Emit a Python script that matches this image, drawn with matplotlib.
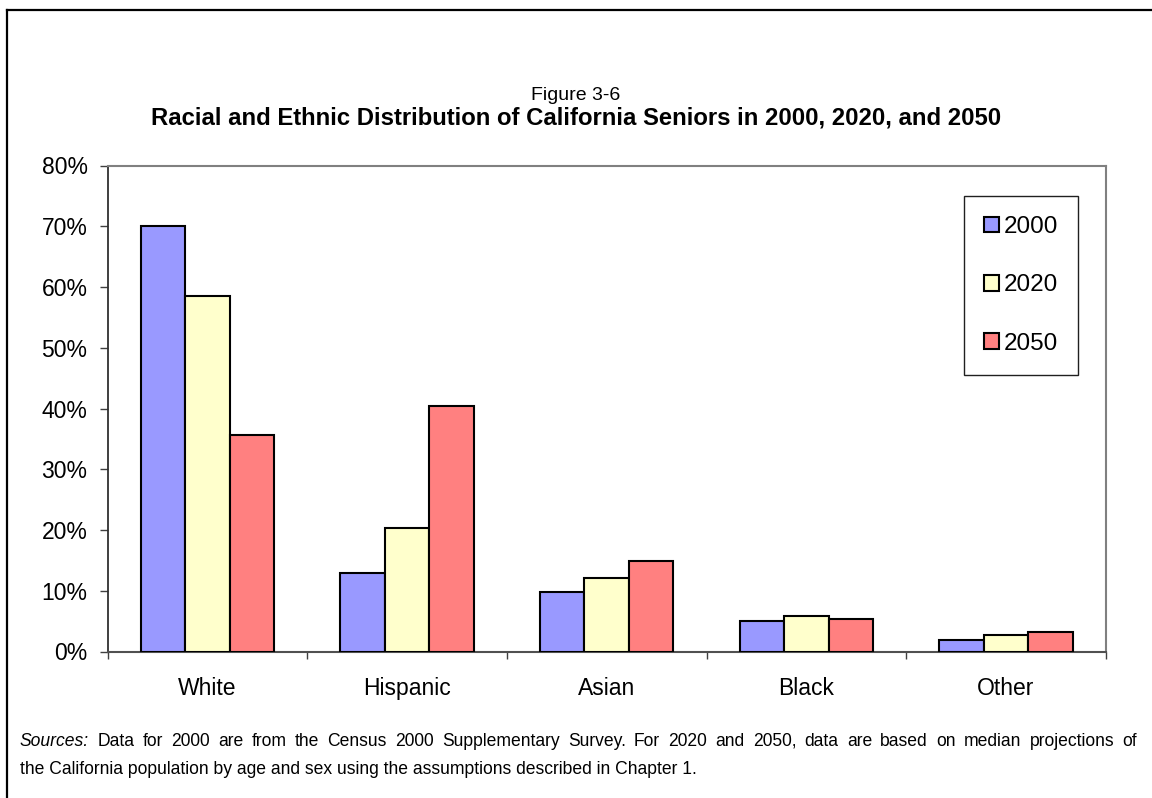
import matplotlib
matplotlib.use("Agg")
import matplotlib.pyplot as plt
import numpy as np
from matplotlib.lines import Line2D
from matplotlib.ticker import FixedLocator, FuncFormatter

plt.rcParams['font.family'] = ['Liberation Sans', 'DejaVu Sans']

# Share of California seniors by race/ethnicity (%)
categories = ["White", "Hispanic", "Asian", "Black", "Other"]
years = ["2000", "2020", "2050"]
share_2000 = [70.0, 13.0, 9.8, 5.0, 1.9]
share_2020 = [58.5, 20.4, 12.1, 5.9, 2.7]
share_2050 = [35.6, 40.4, 14.9, 5.4, 3.2]
series = [share_2000, share_2020, share_2050]
colors = ["#9999FF", "#FFFFCC", "#FF8080"]
y_ticks = [0, 10, 20, 30, 40, 50, 60, 70, 80]

note_line1 = ("Data for 2000 are from the Census 2000 Supplementary Survey. For 2020 and 2050, "
              "data are based on median projections of")
note_line2 = ("the California population by age and sex using the assumptions "
              "described in Chapter 1.")

W, H = 1152, 798
fig = plt.figure(figsize=(W / 100, H / 100), dpi=100)

# page frame: top and left rules
fig.add_artist(Line2D([7 / W, 1.0], [1 - 10 / H, 1 - 10 / H], color="black", lw=1.6,
                      transform=fig.transFigure))
fig.add_artist(Line2D([7 / W, 7 / W], [0.0, 1 - 10 / H], color="black", lw=1.6,
                      transform=fig.transFigure))

ax = fig.add_axes([107.7 / W, 1 - 651.5 / H, (1105.7 - 107.7) / W, (651.5 - 165.5) / H])

x = np.arange(len(categories))
bw = 0.223
for i, (vals, col, yr) in enumerate(zip(series, colors, years)):
    ax.bar(x + (i - 1) * bw, vals, width=bw, color=col, edgecolor="black",
           linewidth=1.5, label=yr, zorder=3)

ax.set_xlim(-0.5, len(categories) - 0.5)
ax.set_ylim(0, 80)

ax.yaxis.set_major_locator(FixedLocator(y_ticks))
ax.yaxis.set_major_formatter(FuncFormatter(lambda v, p: f"{v:.0f}%"))
ax.tick_params(axis="y", direction="out", length=5.5, width=1.0, color="#404040",
               labelsize=16.5, pad=9)

# category names sit on a common baseline below the axis
ax.set_xticks(x)
ax.set_xticklabels(categories)
ax.set_xticks(np.arange(-0.5, len(categories)), minor=True)
ax.tick_params(axis="x", which="major", length=0, labelsize=16.5, pad=31)
for lbl in ax.get_xticklabels():
    lbl.set_verticalalignment("baseline")
ax.tick_params(axis="x", which="minor", direction="out", length=5, width=1.0,
               color="#404040")

for side in ("top", "right"):
    ax.spines[side].set_color("#808080")
    ax.spines[side].set_linewidth(1.5)
ax.spines["left"].set_color("#303030")
ax.spines["left"].set_linewidth(1.3)
ax.spines["bottom"].set_color("#505050")
ax.spines["bottom"].set_linewidth(1.5)

leg = ax.legend(loc="upper left", bbox_to_anchor=(964 / W, 1 - 196 / H),
                bbox_transform=fig.transFigure, fontsize=17.5, frameon=True,
                fancybox=False, framealpha=1, edgecolor="#202020",
                handlelength=0.62, handleheight=0.62, handletextpad=0.2,
                labelspacing=1.5, borderpad=0.82, borderaxespad=0)
leg.get_frame().set_linewidth(1.0)

# titles
fig.text(0.5, 1 - 95 / H, "Figure 3-6", ha="center", va="center", fontsize=14)
fig.text(0.5, 1 - 118 / H,
         "Racial and Ethnic Distribution of California Seniors in 2000, 2020, and 2050",
         ha="center", va="center", fontsize=17.2, fontweight="bold")

# source note: first line justified between the left and right margins
note_size = 12.65
left_px, right_px = 20, 1137
base1, base2 = 746, 774
fig.canvas.draw()
renderer = fig.canvas.get_renderer()
words = [("Sources:", "italic")] + [(w, "normal") for w in note_line1.split()]
arts = [fig.text(0, 1 - base1 / H, w, ha="left", va="baseline", fontsize=note_size,
                 style=s) for w, s in words]
widths = [a.get_window_extent(renderer).width for a in arts]
gap = (right_px - left_px - sum(widths)) / (len(arts) - 1)
pos = left_px
for a, w in zip(arts, widths):
    a.set_x(pos / W)
    pos += w + gap

fig.text(left_px / W, 1 - base2 / H, note_line2, ha="left", va="baseline",
         fontsize=note_size)

fig.savefig("out.png", dpi=100)
